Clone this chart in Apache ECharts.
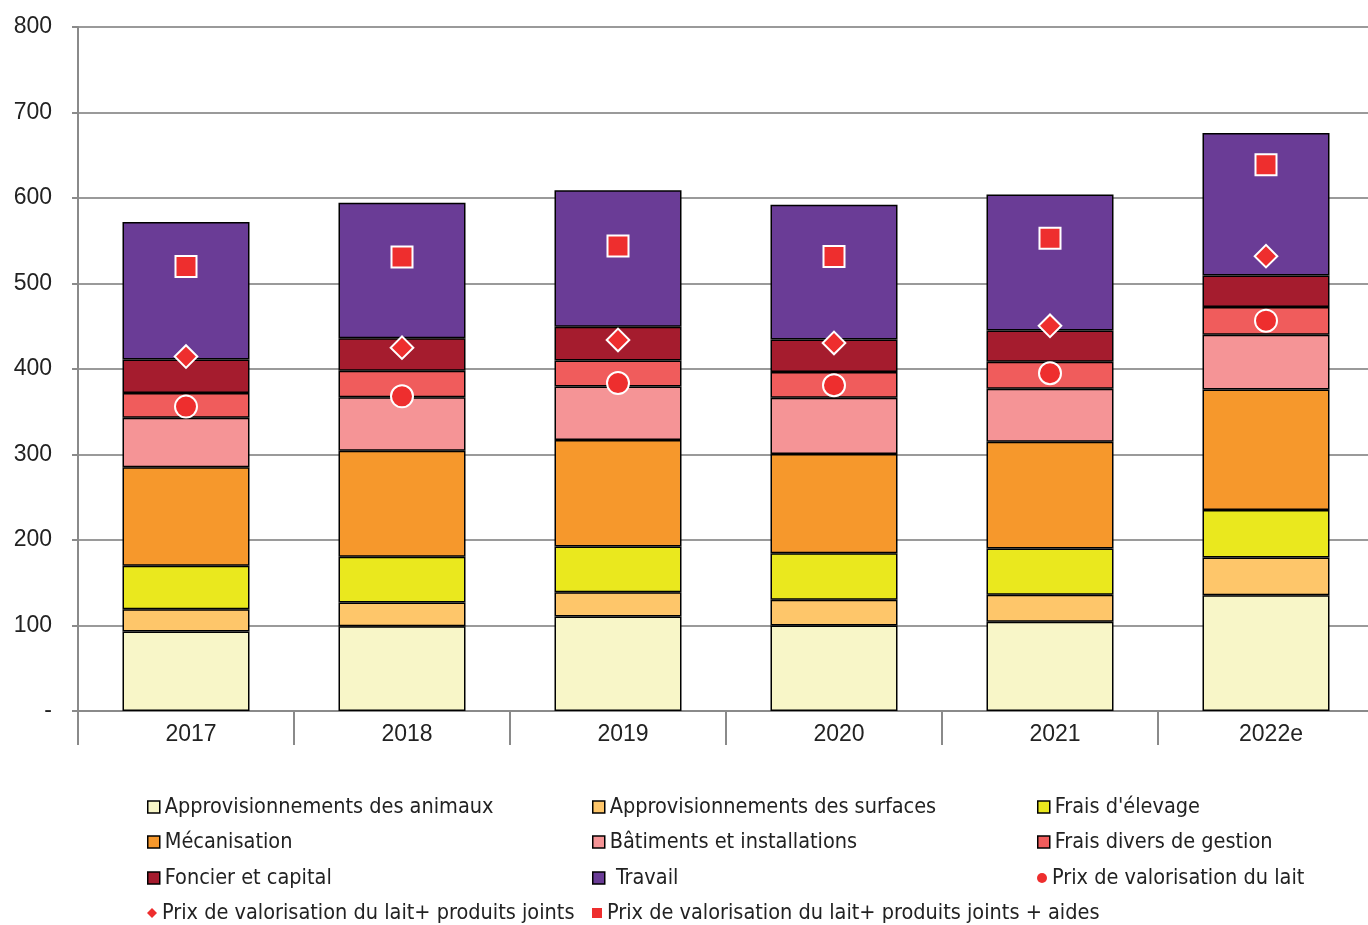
<!DOCTYPE html>
<html>
<head>
<meta charset="utf-8">
<script src="https://cdn.jsdelivr.net/npm/echarts@6/dist/echarts.min.js"></script>
<style>
html,body{margin:0;padding:0;background:#fff;overflow:hidden;}
#chart{width:1374px;height:925px;}
</style>
</head>
<body>
<div id="chart"></div>
<script>
const categories = ['2017','2018','2019','2020','2021','2022e'];
const yTickLabels = ['-','100','200','300','400','500','600','700','800'];

const approAnimaux   = [93, 99, 110.5, 100, 104.5, 135.5];
const approSurfaces  = [26, 28, 28.5, 30, 31.5, 44];
const fraisElevage   = [51, 53.5, 53.5, 54.5, 54, 55.5];
const mecanisation   = [115, 124, 124.5, 116, 125, 141];
const batiments      = [58, 62.5, 62.5, 66, 62, 64];
const fraisDivers    = [29, 31, 30.5, 30, 31.5, 32.5];
const foncier        = [39, 38, 39.5, 38, 36.5, 37];
const travail        = [161, 158.5, 159.5, 157.5, 159, 166.5];

const prixLait        = [356, 368, 383.5, 381, 395, 456.5];
const prixLaitPJ      = [414.5, 425, 434, 430.5, 450.5, 532];
const prixLaitPJAides = [520, 531, 544, 531.5, 553, 639];

const barDefs = [
  {name:'Approvisionnements des animaux', data:approAnimaux, color:'#F8F6C8'},
  {name:'Approvisionnements des surfaces', data:approSurfaces, color:'#FEC66A'},
  {name:"Frais d'élevage", data:fraisElevage, color:'#EAE81E'},
  {name:'Mécanisation', data:mecanisation, color:'#F6982C'},
  {name:'Bâtiments et installations', data:batiments, color:'#F59496'},
  {name:'Frais divers de gestion', data:fraisDivers, color:'#F05C5C'},
  {name:'Foncier et capital', data:foncier, color:'#A51C2E'},
  {name:' Travail', data:travail, color:'#6A3C96'}
];
const red = '#EE2E2E';
const scatterDefs = [
  {name:'Prix de valorisation du lait', data:prixLait, symbol:'circle', size:22, rotate:0, icon:'circle'},
  {name:'Prix de valorisation du lait+ produits joints', data:prixLaitPJ, symbol:'rect', size:16, rotate:45, icon:'diamond'},
  {name:'Prix de valorisation du lait+ produits joints + aides', data:prixLaitPJAides, symbol:'rect', size:21, rotate:0, icon:'rect'}
];

const series = [];
barDefs.forEach(d => series.push({
  name:d.name, type:'bar', stack:'total', data:d.data, barWidth:127,
  itemStyle:{color:d.color, borderColor:'#000', borderWidth:1.5},
  emphasis:{disabled:true}
}));
scatterDefs.forEach(d => series.push({
  name:d.name, type:'scatter', data:d.data, symbol:d.symbol, symbolSize:d.size, symbolRotate:d.rotate,
  itemStyle:{color:red, borderColor:'#fff', borderWidth:2, opacity:1}, z:5,
  emphasis:{disabled:true}
}));

// legend layout: [name, col, row]
const legendLayout = [
  ['Approvisionnements des animaux',0,0],
  ['Approvisionnements des surfaces',1,0],
  ["Frais d'élevage",2,0],
  ['Mécanisation',0,1],
  ['Bâtiments et installations',1,1],
  ['Frais divers de gestion',2,1],
  ['Foncier et capital',0,2],
  [' Travail',1,2],
  ['Prix de valorisation du lait',2,2],
  ['Prix de valorisation du lait+ produits joints',0,3],
  ['Prix de valorisation du lait+ produits joints + aides',1,3]
];
const colX = [147, 592, 1037];
const rowY = [796, 831, 867, 902];
const legends = legendLayout.map(([name,c,r]) => {
  const sc = scatterDefs.find(s => s.name === name);
  return {
    left: colX[c], top: rowY[r], padding:0,
    itemWidth: sc ? 10 : 12, itemHeight: sc ? 10 : 12,
    selectedMode:false,
    textStyle:{fontFamily:'DejaVu Sans Condensed, sans-serif', fontSize:21.5, color:'#222'},
    data:[sc ? {name, icon:sc.icon, itemStyle:{borderWidth:0, color:red}} : {name, icon:'rect', itemStyle:{borderWidth:1.5, borderColor:'#000'}}]
  };
});

const chart = echarts.init(document.getElementById('chart'));
chart.setOption({
  animation:false,
  backgroundColor:'#fff',
  grid:{left:78, top:27, right:0, bottom:214, containLabel:false},
  legend: legends,
  xAxis:{
    type:'category', data:categories,
    axisLine:{show:true, lineStyle:{color:'#8a8a8a', width:2}},
    axisTick:{show:true, length:34, lineStyle:{color:'#8a8a8a', width:2}},
    axisLabel:{fontFamily:'Liberation Sans, Arial, sans-serif', fontSize:23, color:'#222', margin:12, padding:[0,0,0,10]}
  },
  yAxis:{
    type:'value', min:0, max:800, interval:100,
    axisLine:{show:true, lineStyle:{color:'#8a8a8a', width:2}},
    axisTick:{show:true, length:6, lineStyle:{color:'#8a8a8a', width:2}},
    splitLine:{show:true, lineStyle:{color:'#9a9a9a', width:2}},
    axisLabel:{fontFamily:'Liberation Sans, Arial, sans-serif', fontSize:23, color:'#222', margin:26,
      formatter:(v) => yTickLabels[Math.round(v/100)]}
  },
  series
});
</script>
</body>
</html>
